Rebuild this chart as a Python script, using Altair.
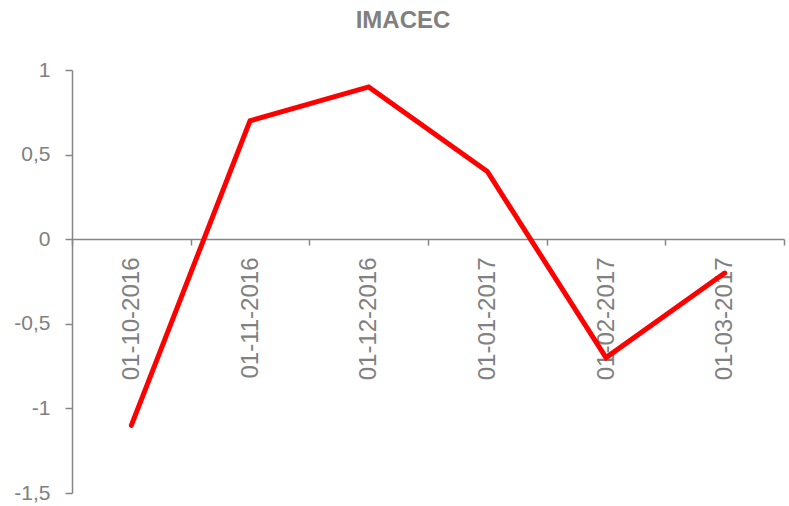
import altair as alt
import pandas as pd

# IMACEC monthly variation
fechas = ["01-10-2016", "01-11-2016", "01-12-2016", "01-01-2017", "01-02-2017", "01-03-2017"]
imacec = [-1.1, 0.7, 0.9, 0.4, -0.7, -0.2]
y_ticks = [-1.5, -1, -0.5, 0, 0.5, 1]
titulo = ["IMACEC"]

df = pd.DataFrame({"fecha": fechas, "imacec": imacec})
df_title = pd.DataFrame({"t": titulo})

gray = "#868686"
label_gray = "#808080"
font = "Liberation Sans"

PLOT_W, PLOT_H = 712, 423
y_min, y_max = -1.5, 1.0
# distance from the bottom edge up to the zero line
zero_offset = round(PLOT_H * (0 - y_min) / (y_max - y_min))

x_scale = alt.Scale(domain=fechas, paddingInner=0, paddingOuter=0)
y_scale = alt.Scale(domain=[y_min, y_max], nice=False, zero=False)

line = alt.Chart(df).mark_line(
    color="#FF0000", strokeWidth=5, strokeCap="round", strokeJoin="miter"
).encode(
    x=alt.X(
        "fecha:N",
        scale=x_scale,
        sort=fechas,
        title=None,
        axis=alt.Axis(
            offset=-zero_offset,
            labelAngle=270,
            labelAlign="right",
            labelBaseline="middle",
            labelPadding=12,
            labelFontSize=24,
            labelFont=font,
            labelColor=label_gray,
            tickBand="extent",
            tickSize=6,
            tickColor=gray,
            tickWidth=1.5,
            domainColor=gray,
            domainWidth=1.5,
            grid=False,
        ),
    ),
    y=alt.Y(
        "imacec:Q",
        scale=y_scale,
        title=None,
        axis=alt.Axis(
            values=y_ticks,
            labelExpr="replace(toString(datum.value), '.', ',')",
            labelFontSize=21,
            labelFont=font,
            labelColor=label_gray,
            labelPadding=15,
            tickSize=7,
            tickColor=gray,
            tickWidth=1.5,
            domainColor=gray,
            domainWidth=1.5,
            grid=False,
        ),
    ),
)

title = alt.Chart(df_title).mark_text(
    font=font, fontSize=24, fontWeight="bold", color=label_gray,
    align="center", baseline="alphabetic",
).encode(
    x=alt.value(331),
    y=alt.value(-42),
    text="t:N",
)

chart = alt.layer(line, title).properties(
    width=PLOT_W,
    height=PLOT_H,
    autosize=alt.AutoSizeParams(type="none"),
    padding={"left": 72, "top": 70, "right": 5, "bottom": 13},
).configure_view(stroke=None)

chart.save("out.html", embed_options={"renderer": "svg", "actions": False})
